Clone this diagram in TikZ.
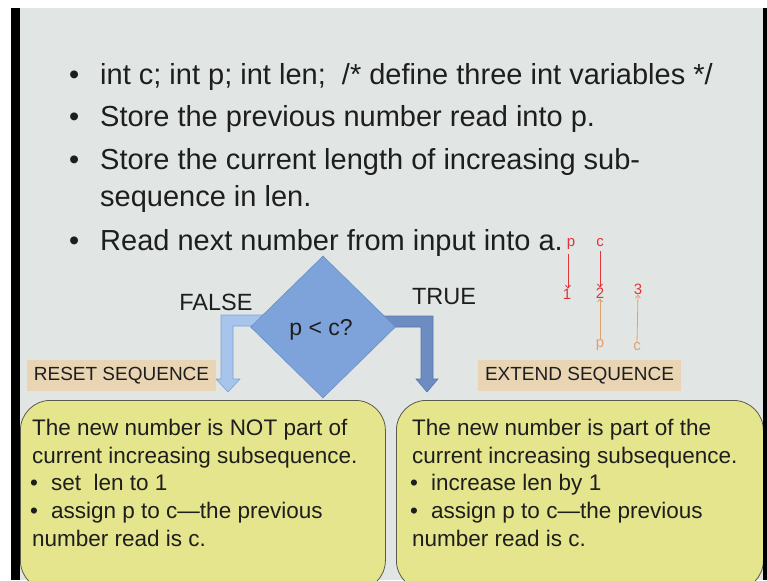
\documentclass[tikz,border=0pt]{standalone}
\usepackage{fontspec}
\setmainfont{Liberation Sans}
\usetikzlibrary{shapes.geometric,arrows.meta}
\definecolor{bg}{HTML}{E1E6E5}
\definecolor{ink}{HTML}{1E1E1E}
\definecolor{boxfill}{HTML}{E4E58C}
\definecolor{boxline}{HTML}{5A5A4A}
\definecolor{tan}{HTML}{E9D5B4}
\definecolor{dmfill}{HTML}{7DA3DA}
\definecolor{dmline}{HTML}{6B8FC6}
\definecolor{lafill}{HTML}{A7C5EC}
\definecolor{laline}{HTML}{7E9FCF}
\definecolor{rafill}{HTML}{6D8DC2}
\definecolor{raline}{HTML}{5877AC}
\definecolor{hred}{HTML}{E0343C}
\definecolor{horange}{HTML}{E4A06A}
\begin{document}
\begin{tikzpicture}[x=1pt,y=-1pt,
  bigtxt/.style={anchor=base west, inner sep=0pt, text=ink, font=\fontsize{29}{29}\selectfont},
  boxtxt/.style={anchor=base west, inner sep=0pt, text=ink, font=\fontsize{22.5}{22.5}\selectfont},
  lbl/.style={inner sep=0pt, text=ink, font=\fontsize{23.5}{23.5}\selectfont},
  tag/.style={fill=tan, inner sep=0pt, text=ink, minimum height=31pt, font=\fontsize{19}{19}\selectfont},
  yellowbox/.style={draw=boxline, line width=0.8pt, fill=boxfill, rounded corners=30pt, inner sep=0pt, anchor=north west},
  hand/.style={inner sep=0pt, font=\fontsize{15}{15}\selectfont},
  handarrow/.style={line width=0.8pt, -{Straight Barb[length=3pt,width=5pt]}}]
\useasboundingbox (0,0) rectangle (767,580);
\clip (0,0) rectangle (767,580);
\fill[white] (0,0) rectangle (767,580);
\fill[bg] (20,8) rectangle (763,580);

% top bullet list
\node[bigtxt] (b1) at (69,85) {•};
\node[bigtxt] (t1) at (100,85) {int c; int p; int len; \ /* define three int variables */};
\node[bigtxt] (b2) at (69,127) {•};
\node[bigtxt] (t2) at (100,127) {Store the previous number read into p.};
\node[bigtxt] (b3) at (69,169) {•};
\node[bigtxt] (t3) at (100,169) {Store the current length of increasing sub-};
\node[bigtxt] (t3b) at (100,206) {sequence in len.};
\node[bigtxt] (b4) at (69,250) {•};
\node[bigtxt] (t4) at (100,250) {Read next number from input into a.};

% yellow boxes
\node[yellowbox, minimum width=365pt, minimum height=190pt] (lbox) at (20,400) {};
\node[yellowbox, minimum width=367pt, minimum height=190pt] (rbox) at (396,400) {};

% block arrows
\draw[fill=lafill, draw=laline, line width=0.6pt]
  (270,315) -- (221,315) -- (221,379) -- (216,379) -- (228,392) -- (240,379) -- (233,379) -- (233,326) -- (270,326) -- cycle;
\draw[fill=rafill, draw=raline, line width=0.6pt]
  (380,316) -- (433,316) -- (433,379) -- (438,379) -- (427,392) -- (416,379) -- (421,379) -- (421,327) -- (380,327) -- cycle;

% decision diamond
\node[diamond, fill=dmfill, draw=dmline, line width=0.6pt, minimum width=145pt, minimum height=142pt, inner sep=0pt, text=ink, font=\fontsize{23}{23}\selectfont] (dec) at (323,327) {};
\node[inner sep=0pt, text=ink, font=\fontsize{23}{23}\selectfont] (cond) at (321,330) {p < c?};

% branch labels
\node[lbl] (false) at (216,302) {FALSE};
\node[lbl] (true) at (444,297) {TRUE};

% tags
\node[tag, minimum width=189pt] (reset) at (121.5,375.5) {RESET SEQUENCE};
\node[tag, minimum width=203pt] (extend) at (579.5,375.5) {EXTEND SEQUENCE};

% left box text
\node[boxtxt] (l1) at (32,435) {The new number is NOT part of};
\node[boxtxt] (l2) at (32,463) {current increasing subsequence.};
\node[boxtxt] (l3b) at (30,490) {•};
\node[boxtxt] (l3) at (51,490) {set \ len to 1};
\node[boxtxt] (l4b) at (30,518) {•};
\node[boxtxt] (l4) at (51,518) {assign p to c—the previous};
\node[boxtxt] (l5) at (32,546) {number read is c.};

% right box text
\node[boxtxt] (r1) at (412,435) {The new number is part of the};
\node[boxtxt] (r2) at (412,463) {current increasing subsequence.};
\node[boxtxt] (r3b) at (410,490) {•};
\node[boxtxt] (r3) at (431,490) {increase len by 1};
\node[boxtxt] (r4b) at (410,518) {•};
\node[boxtxt] (r4) at (431,518) {assign p to c—the previous};
\node[boxtxt] (r5) at (412,546) {number read is c.};

% handwritten annotations
\node[hand, text=hred] (hp) at (571,244) {p};
\node[hand, text=hred] (hc) at (600,243) {c};
\node[hand, text=hred] (h1) at (567,294) {1};
\node[hand, text=hred] (h2) at (600,293) {2};
\node[hand, text=hred] (h3) at (638,289) {3};
\node[hand, text=horange] (hp2) at (600,345) {p};
\node[hand, text=horange] (hc2) at (637,347) {c};
\draw[handarrow, hred] (hp.south) ++(-3,4) coordinate (hpa) -- (h1.north -| hpa);
\draw[handarrow, hred] (hc) ++(0,8) coordinate (hca) -- (h2.north -| hca);
\draw[handarrow, horange] (hp2.north) -- (h2.south);
\draw[handarrow, horange] (hc2.north) -- (h3.south);

% dark side bars
\fill[black] (11,8) rectangle (20,580);
\fill[black] (763,8) rectangle (767,580);
\end{tikzpicture}
\end{document}
